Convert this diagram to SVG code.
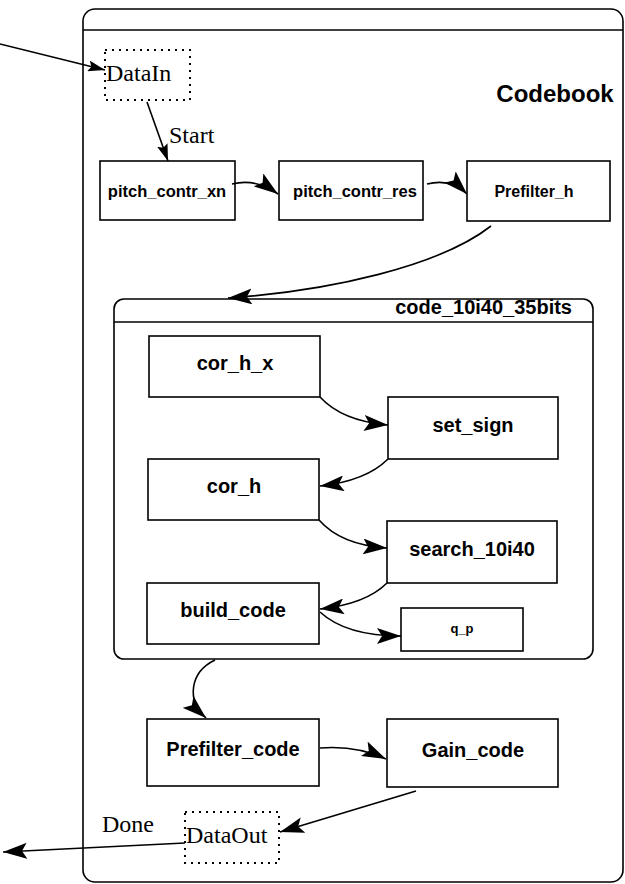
<svg xmlns="http://www.w3.org/2000/svg" width="625" height="884" viewBox="0 0 625 884">
<style>
.frame{fill:none;stroke:#000;stroke-width:1.6}
.box{fill:#fff;stroke:#000;stroke-width:1.6}
.dot{fill:none;stroke:#000;stroke-width:2;stroke-dasharray:2 5}
.lbl{font-family:"Liberation Sans",Arial,sans-serif;font-weight:bold;fill:#000;text-anchor:middle}
.ser{font-family:"Liberation Serif","Times New Roman",serif;font-size:24px;fill:#000}
.edge{fill:none;stroke:#000;stroke-width:1.6;marker-end:url(#ah)}
.edge2{fill:none;stroke:#000;stroke-width:1.6;marker-end:url(#ahs)}
</style>
<defs>
<marker id="ah" markerUnits="userSpaceOnUse" markerWidth="24" markerHeight="16" refX="24" refY="8" orient="auto"><path d="M0,0 L24,8 L0,16 L5,8 z" fill="#000"/></marker>
<marker id="ahs" markerUnits="userSpaceOnUse" markerWidth="17" markerHeight="11" refX="17" refY="5.5" orient="auto"><path d="M0,0 L17,5.5 L0,11 L3,5.5 z" fill="#000"/></marker>
</defs>
<g id="Codebook">
<rect class="frame" x="83" y="9" width="540" height="873" rx="12"/>
<line class="frame" x1="83" y1="30" x2="623" y2="30"/>
<text class="lbl" x="555" y="102" font-size="24">Codebook</text>
</g>
<g id="DataIn">
<rect class="dot" x="105" y="50" width="85" height="50"/>
<text class="ser" x="106" y="81">DataIn</text>
</g>
<g id="pitch_contr_xn">
<rect class="box" x="100" y="161" width="135" height="59"/>
<text class="lbl" x="167" y="197" font-size="16.5">pitch_contr_xn</text>
</g>
<g id="pitch_contr_res">
<rect class="box" x="279" y="161" width="144" height="59"/>
<text class="lbl" x="355" y="197" font-size="16.5">pitch_contr_res</text>
</g>
<g id="Prefilter_h">
<rect class="box" x="467" y="161" width="143" height="60"/>
<text class="lbl" x="534" y="197" font-size="16">Prefilter_h</text>
</g>
<g id="code_10i40_35bits">
<rect class="frame" x="114" y="299" width="479" height="360" rx="10"/>
<line class="frame" x1="114" y1="322" x2="593" y2="322"/>
<text class="lbl" x="572" y="314" font-size="20" style="text-anchor:end">code_10i40_35bits</text>
</g>
<g id="cor_h_x">
<rect class="box" x="149" y="336" width="171" height="61"/>
<text class="lbl" x="235" y="370" font-size="20">cor_h_x</text>
</g>
<g id="set_sign">
<rect class="box" x="388" y="397" width="170" height="62"/>
<text class="lbl" x="473" y="432" font-size="20">set_sign</text>
</g>
<g id="cor_h">
<rect class="box" x="148" y="459" width="171" height="61"/>
<text class="lbl" x="234" y="493" font-size="20">cor_h</text>
</g>
<g id="search_10i40">
<rect class="box" x="387" y="521" width="170" height="62"/>
<text class="lbl" x="472" y="556" font-size="20">search_10i40</text>
</g>
<g id="build_code">
<rect class="box" x="147" y="583" width="172" height="61"/>
<text class="lbl" x="233" y="617" font-size="20">build_code</text>
</g>
<g id="q_p">
<rect class="box" x="401" y="608" width="122" height="43"/>
<text class="lbl" x="462" y="633" font-size="13">q_p</text>
</g>
<g id="Prefilter_code">
<rect class="box" x="147" y="719" width="172" height="67"/>
<text class="lbl" x="233" y="756" font-size="20">Prefilter_code</text>
</g>
<g id="Gain_code">
<rect class="box" x="387" y="719" width="171" height="68"/>
<text class="lbl" x="473" y="757" font-size="20">Gain_code</text>
</g>
<g id="DataOut">
<rect class="dot" x="185" y="812" width="94" height="51"/>
<text class="ser" x="186" y="843">DataOut</text>
</g>
<g id="connectors">
<path class="edge2" d="M0,44 L105,70"/>
<path class="edge2" d="M147,102 L168,161"/>
<text class="ser" x="169" y="143">Start</text>
<path class="edge" d="M232,184 Q256,178 278,194"/>
<path class="edge" d="M427,184 Q451,178 467,194"/>
<path class="edge" d="M491,226 C440,266 330,291 228,298"/>
<path class="edge" d="M320,397 Q342,421 388,425"/>
<path class="edge" d="M388,459 Q366,481 320,486"/>
<path class="edge" d="M319,520 Q341,545 387,548"/>
<path class="edge" d="M387,583 Q366,604 320,609"/>
<path class="edge" d="M320,612 Q346,636 401,636"/>
<path class="edge" d="M215,660 C190,672 186,700 206,718"/>
<path class="edge" d="M320,748 Q356,745 386,759"/>
<path class="edge" d="M416,791 L280,832"/>
<path class="edge" d="M185,843 L3,852"/>
<text class="ser" x="102" y="832">Done</text>
</g>
</svg>
